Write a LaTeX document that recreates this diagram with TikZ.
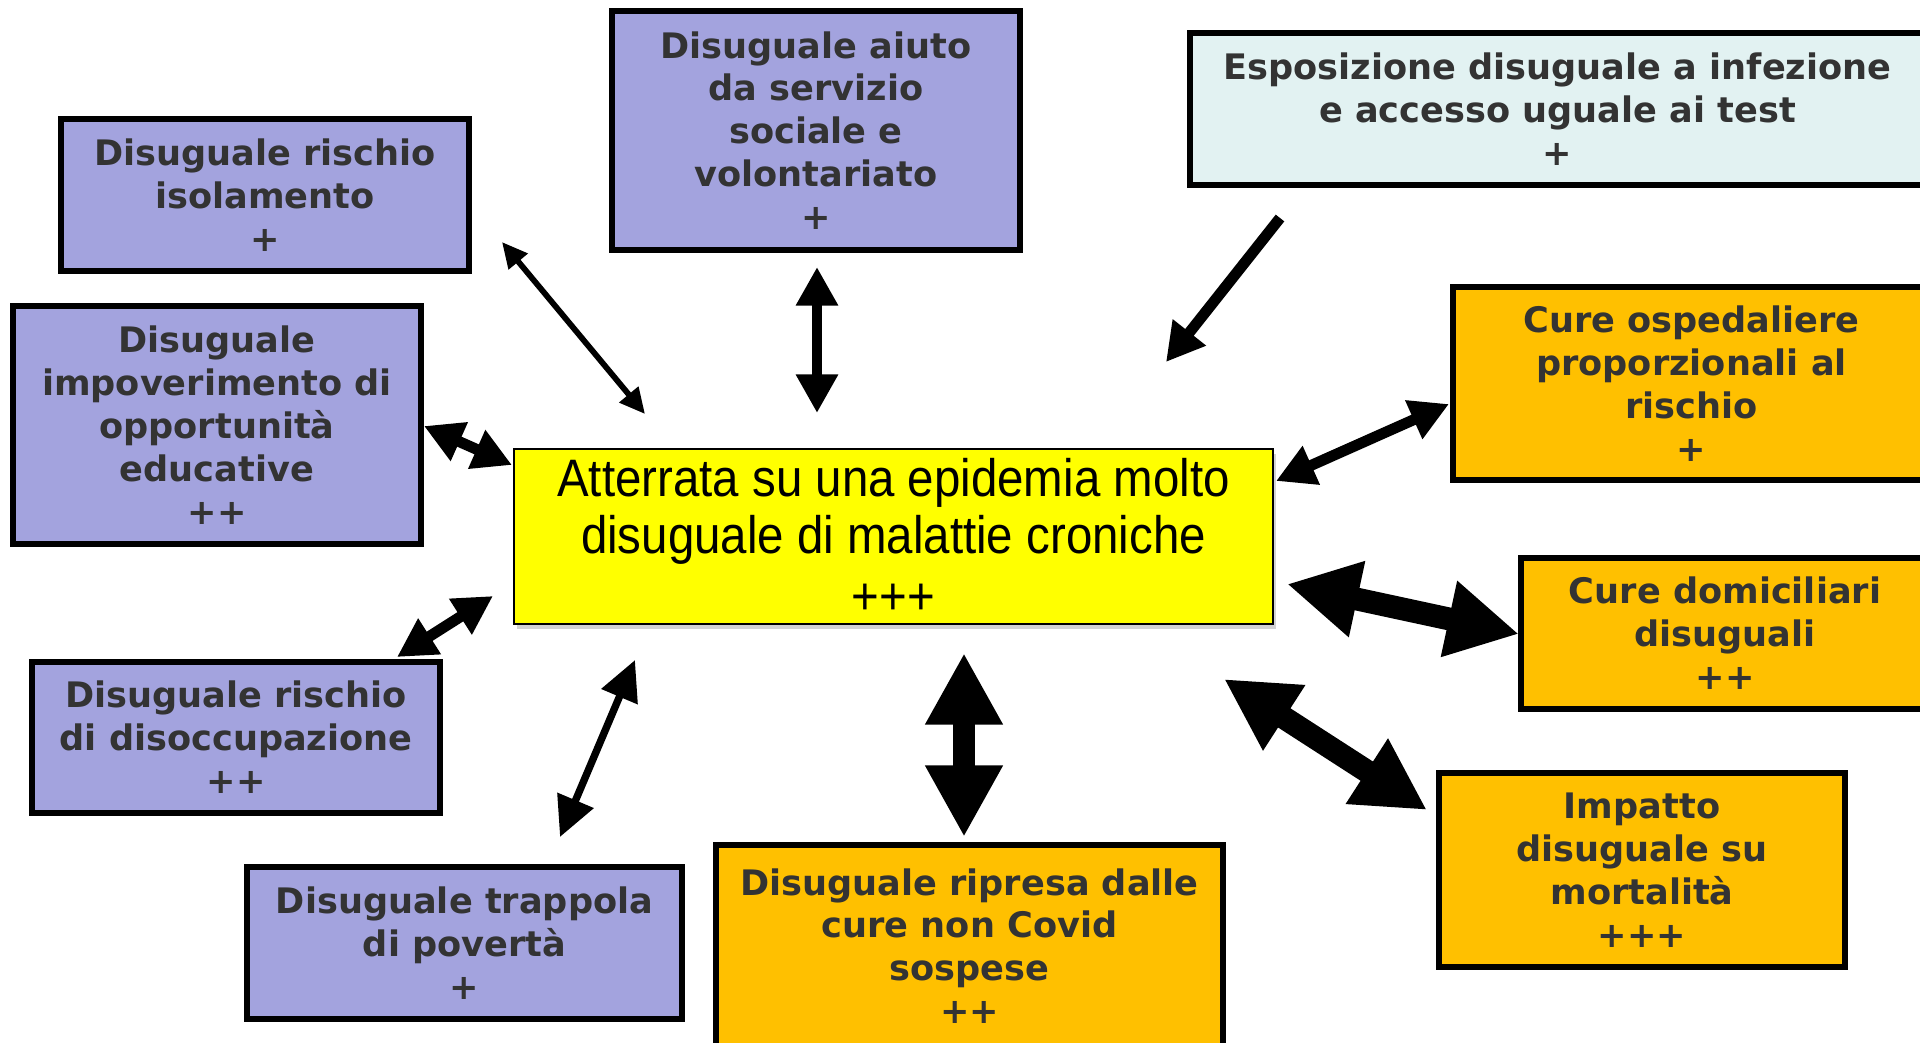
\documentclass[tikz,border=0pt]{standalone}
\usepackage{fontspec}
\usetikzlibrary{arrows.meta,shadows}
\newfontfamily\boxfont{DejaVu Sans}
\newfontfamily\corefont[FakeStretch=0.9]{Liberation Sans}
\definecolor{cLilla}{RGB}{163,163,222}
\definecolor{cArancio}{RGB}{255,192,0}
\definecolor{cAcqua}{RGB}{226,242,242}
\definecolor{cGiallo}{RGB}{255,255,0}
\definecolor{cTesto}{RGB}{51,51,51}

\begin{document}
\begin{tikzpicture}[
  x=0.02cm, y=-0.02cm,
  box/.style      = {draw, line width=3.2pt, align=center, inner sep=0pt,
                     font=\boxfont\bfseries\fontsize{20}{24.4}\selectfont, text=cTesto},
  boxsize/.style 2 args = {minimum width=#1*0.02cm, minimum height=#2*0.02cm},
  core/.style     = {draw, line width=0.9pt, fill=cGiallo, align=center, inner sep=0pt,
                     drop shadow={opacity=0.35, shadow xshift=1.5pt, shadow yshift=-3pt},
                     font=\corefont\fontsize{30}{32.5}\selectfont},
  thinlink/.style = {line width=3.3pt,
                     {Triangle[length=14.5pt,width=13.5pt]}-{Triangle[length=14.5pt,width=13.5pt]}},
  slimlink/.style = {line width=4.2pt,
                     {Triangle[length=22.7pt,width=21.5pt]}-{Triangle[length=22.7pt,width=21.5pt]}},
  midlink/.style  = {line width=6.2pt,
                     {Triangle[length=22pt,width=22.7pt]}-{Triangle[length=22pt,width=22.7pt]}},
  fatlink/.style  = {line width=13pt,
                     {Triangle[length=40.8pt,width=41.4pt]}-{Triangle[length=40.8pt,width=41.4pt]}},
  oneway/.style   = {line width=6.2pt, -{Triangle[length=21.5pt,width=22.7pt]}}
]
\useasboundingbox (0,0) rectangle (1920,1042);

% ---------------------------------------------------------------- il centro --
\node[core, boxsize={759}{175}] (core) at (893.5,536.5)
  {Atterrata su una epidemia molto\\disuguale di malattie croniche\\[2pt]+++};

% ------------------------------------------------------ i riquadri, a sinistra --
\node[box, fill=cLilla, boxsize={408}{152}] (isol)   at (265,195)
  {Disuguale rischio\\isolamento\\+};
\node[box, fill=cLilla, boxsize={408}{239}] (aiuto)  at (816,130.5)
  {Disuguale aiuto\\da servizio\\sociale e\\volontariato\\+};
\node[box, fill=cLilla, boxsize={408}{238}] (impov)  at (217,425)
  {Disuguale\\impoverimento di\\opportunità\\educative\\++};
\node[box, fill=cLilla, boxsize={408}{151}] (disocc) at (236,737.5)
  {Disuguale rischio\\di disoccupazione\\++};
\node[box, fill=cLilla, boxsize={435}{152}] (trapp)  at (464.5,943)
  {Disuguale trappola\\di povertà\\+};

% ------------------------------------------------------- i riquadri, a destra --
\node[box, fill=cAcqua, boxsize={735}{152}]   (espos)   at (1557.5,109)
  {Esposizione disuguale a infezione\\e accesso uguale ai test\\+};
\node[box, fill=cArancio, boxsize={477}{193}] (osped)   at (1691.5,383.5)
  {Cure ospedaliere\\proporzionali al\\rischio\\+};
\node[box, fill=cArancio, boxsize={408}{151}] (domic)   at (1725,633.5)
  {Cure domiciliari\\disuguali\\++};
\node[box, fill=cArancio, boxsize={406}{194}] (mortal)  at (1642,870)
  {Impatto\\disuguale su\\mortalità\\+++};
\node[box, fill=cArancio, boxsize={507}{202}] (ripresa) at (969.5,946)
  {Disuguale ripresa dalle\\cure non Covid\\sospese\\++};

% ---------------------------------------------------- dove cadono le frecce --
\coordinate (isol-t)    at (502,242);  \coordinate (core-isol)    at (645,414);
\coordinate (aiuto-t)   at (817,267);  \coordinate (core-aiuto)   at (817,413);
\coordinate (espos-t)   at (1280,218); \coordinate (core-espos)   at (1166,362);
\coordinate (impov-t)   at (424,426);  \coordinate (core-impov)   at (512,465);
\coordinate (osped-t)   at (1449,404); \coordinate (core-osped)   at (1276,481);
\coordinate (domic-t)   at (1519,634); \coordinate (core-domic)   at (1287,584);
\coordinate (disocc-t)  at (397,657);  \coordinate (core-disocc)  at (493,596);
\coordinate (trapp-t)   at (560,837);  \coordinate (core-trapp)   at (635,660);
\coordinate (ripresa-t) at (964,837);  \coordinate (core-ripresa) at (964,653);
\coordinate (mortal-t)  at (1427,810); \coordinate (core-mortal)  at (1224,679);

% ------------------------------------------------------------------- frecce --
\draw[thinlink] (isol-t)    -- (core-isol);
\draw[midlink]  (aiuto-t)   -- (core-aiuto);
\draw[oneway]   (espos-t)   -- (core-espos);
\draw[midlink]  (impov-t)   -- (core-impov);
\draw[midlink]  (osped-t)   -- (core-osped);
\draw[fatlink]  (domic-t)   -- (core-domic);
\draw[midlink]  (disocc-t)  -- (core-disocc);
\draw[slimlink] (trapp-t)   -- (core-trapp);
\draw[fatlink]  (ripresa-t) -- (core-ripresa);
\draw[fatlink]  (mortal-t)  -- (core-mortal);

\end{tikzpicture}
\end{document}
